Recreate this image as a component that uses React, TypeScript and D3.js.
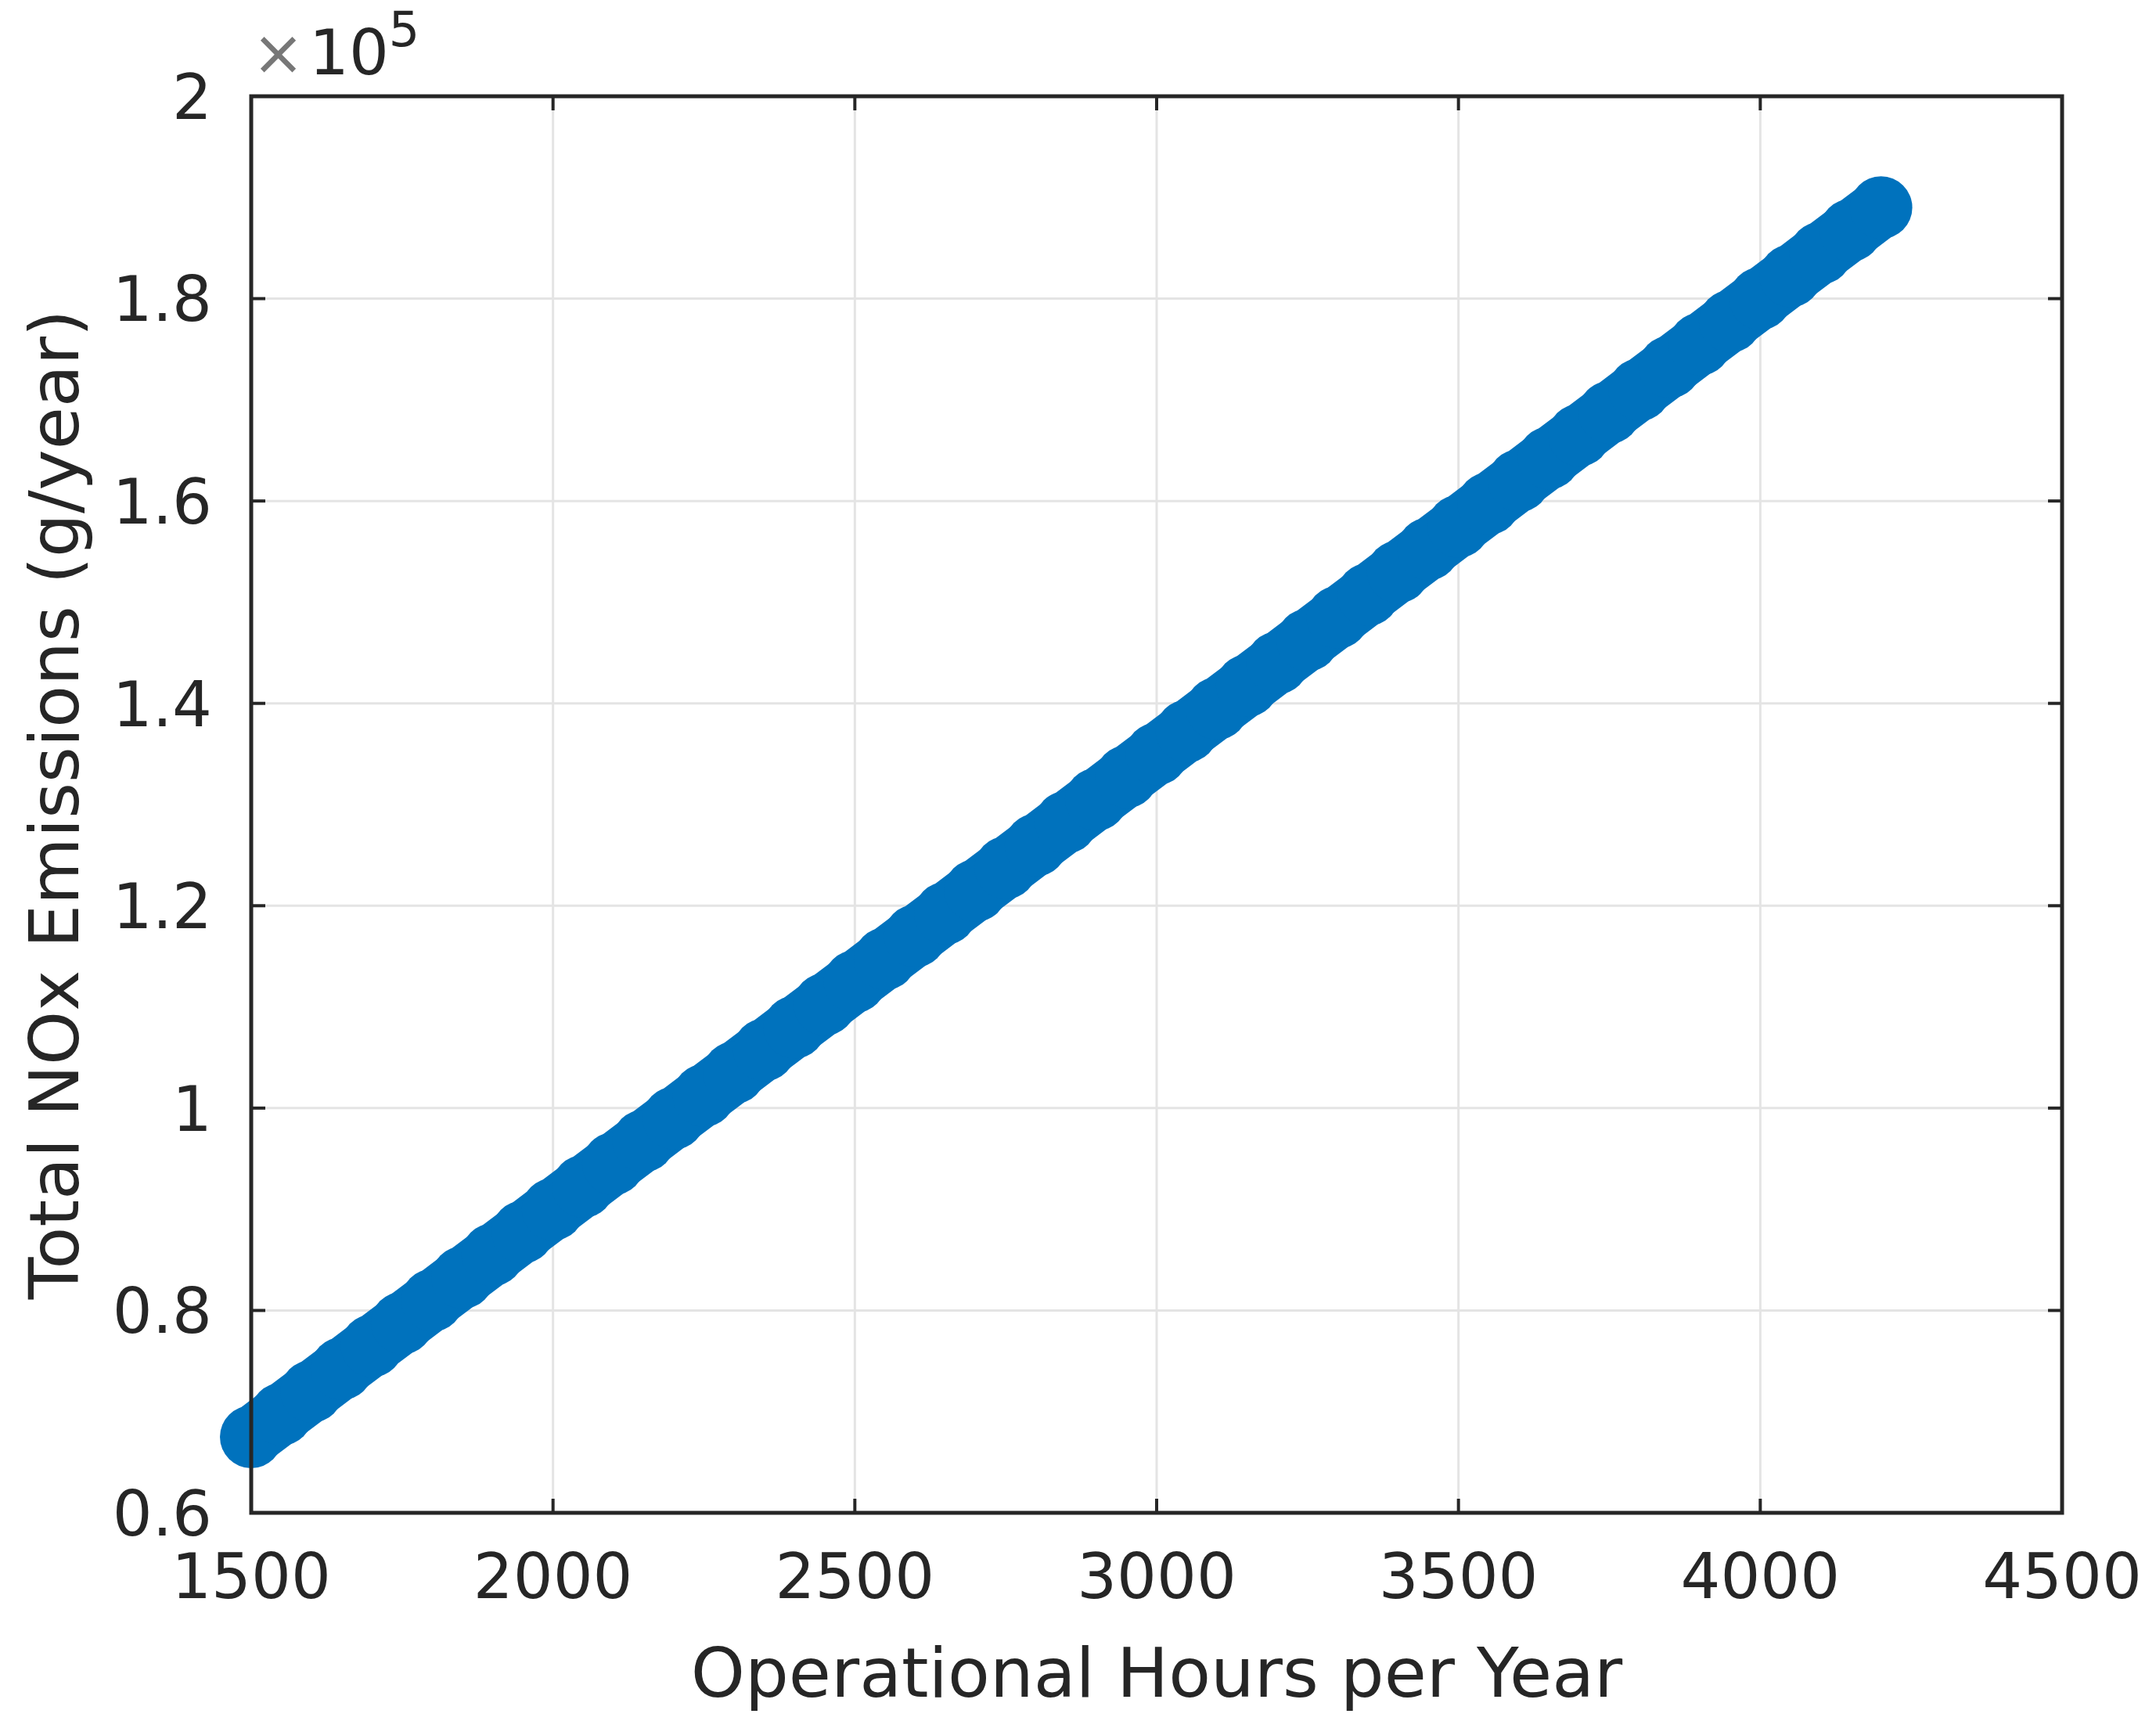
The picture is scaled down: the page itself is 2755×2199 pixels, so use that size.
import React from "react";
import * as d3 from "d3";

// operational hours sampled along the plotted series
const hours = [
  1500, 1550, 1600, 1650, 1700, 1750, 1800, 1850, 1900, 1950, 2000, 2050,
  2100, 2150, 2200, 2250, 2300, 2350, 2400, 2450, 2500, 2550, 2600, 2650,
  2700, 2750, 2800, 2850, 2900, 2950, 3000, 3050, 3100, 3150, 3200, 3250,
  3300, 3350, 3400, 3450, 3500, 3550, 3600, 3650, 3700, 3750, 3800, 3850,
  3900, 3950, 4000, 4050, 4100, 4150, 4200,
];
// total NOx emissions (g/year) read at each sample
const emissions = [
  67500, 69750, 72000, 74250, 76500, 78750, 81000, 83250, 85500, 87750,
  90000, 92250, 94500, 96750, 99000, 101250, 103500, 105750, 108000, 110250,
  112500, 114750, 117000, 119250, 121500, 123750, 126000, 128250, 130500,
  132750, 135000, 137250, 139500, 141750, 144000, 146250, 148500, 150750,
  153000, 155250, 157500, 159750, 162000, 164250, 166500, 168750, 171000,
  173250, 175500, 177750, 180000, 182250, 184500, 186750, 189000,
];
const xTicks = [1500, 2000, 2500, 3000, 3500, 4000, 4500];
const yTicks = [0.6, 0.8, 1, 1.2, 1.4, 1.6, 1.8, 2];

const W = 2755;
const H = 2199;
const left = 321;
const right = 2635;
const top = 123;
const bottom = 1933;
const font = "DejaVu Sans, sans-serif";
const ink = "#262626";
const blue = "#0072BD";

export default function App() {
  const x = d3.scaleLinear().domain([1500, 4500]).range([left, right]);
  const y = d3.scaleLinear().domain([0.6e5, 2e5]).range([bottom, top]);
  const pts = hours.map((h, i) => [h, emissions[i]] as [number, number]);
  const line = d3
    .line<[number, number]>()
    .x((d) => x(d[0]))
    .y((d) => y(d[1]));

  return (
    <svg
      width={W}
      height={H}
      style={{ position: "absolute", left: 0, top: 0, background: "#fff" }}
    >
      <rect x={0} y={0} width={W} height={H} fill="#fff" />
      {/* grid */}
      {xTicks.slice(1, -1).map((t) => (
        <line key={"gx" + t} x1={x(t)} x2={x(t)} y1={top} y2={bottom} stroke="#e4e4e4" strokeWidth={3} />
      ))}
      {yTicks.slice(1, -1).map((t) => (
        <line key={"gy" + t} x1={left} x2={right} y1={y(t * 1e5)} y2={y(t * 1e5)} stroke="#e4e4e4" strokeWidth={3} />
      ))}
      {/* data */}
      <path d={line(pts) || ""} fill="none" stroke={blue} strokeWidth={76} strokeLinecap="round" />
      {pts.map((d, i) => (
        <circle key={i} cx={x(d[0])} cy={y(d[1])} r={40} fill={blue} />
      ))}
      {/* frame */}
      <rect x={left} y={top} width={right - left} height={bottom - top} fill="none" stroke={ink} strokeWidth={5} />
      {/* ticks */}
      {xTicks.map((t) => (
        <g key={"tx" + t}>
          <line x1={x(t)} x2={x(t)} y1={bottom} y2={bottom - 18} stroke={ink} strokeWidth={4} />
          <line x1={x(t)} x2={x(t)} y1={top} y2={top + 18} stroke={ink} strokeWidth={4} />
          <text x={x(t)} y={2042} textAnchor="middle" fontFamily={font} fontSize={80} fill={ink}>
            {t}
          </text>
        </g>
      ))}
      {yTicks.map((t) => (
        <g key={"ty" + t}>
          <line x1={left} x2={left + 18} y1={y(t * 1e5)} y2={y(t * 1e5)} stroke={ink} strokeWidth={4} />
          <line x1={right} x2={right - 18} y1={y(t * 1e5)} y2={y(t * 1e5)} stroke={ink} strokeWidth={4} />
          <text x={271} y={y(t * 1e5)} dy="0.36em" textAnchor="end" fontFamily={font} fontSize={80} fill={ink}>
            {t}
          </text>
        </g>
      ))}
      {/* exponent */}
      <text x={322} y={95} fontFamily={font} fontSize={80} fill={ink}>
        <tspan fill="#777">×</tspan>
        <tspan dx={6}>10</tspan>
        <tspan dy={-36} fontSize={62}>5</tspan>
      </text>
      {/* labels */}
      <text x={1478} y={2168} textAnchor="middle" fontFamily={font} fontSize={88} fill={ink}>
        Operational Hours per Year
      </text>
      <text
        transform={`translate(100, ${(top + bottom) / 2}) rotate(-90)`}
        textAnchor="middle"
        fontFamily={font}
        fontSize={88}
        fill={ink}
      >
        Total NOx Emissions (g/year)
      </text>
    </svg>
  );
}
